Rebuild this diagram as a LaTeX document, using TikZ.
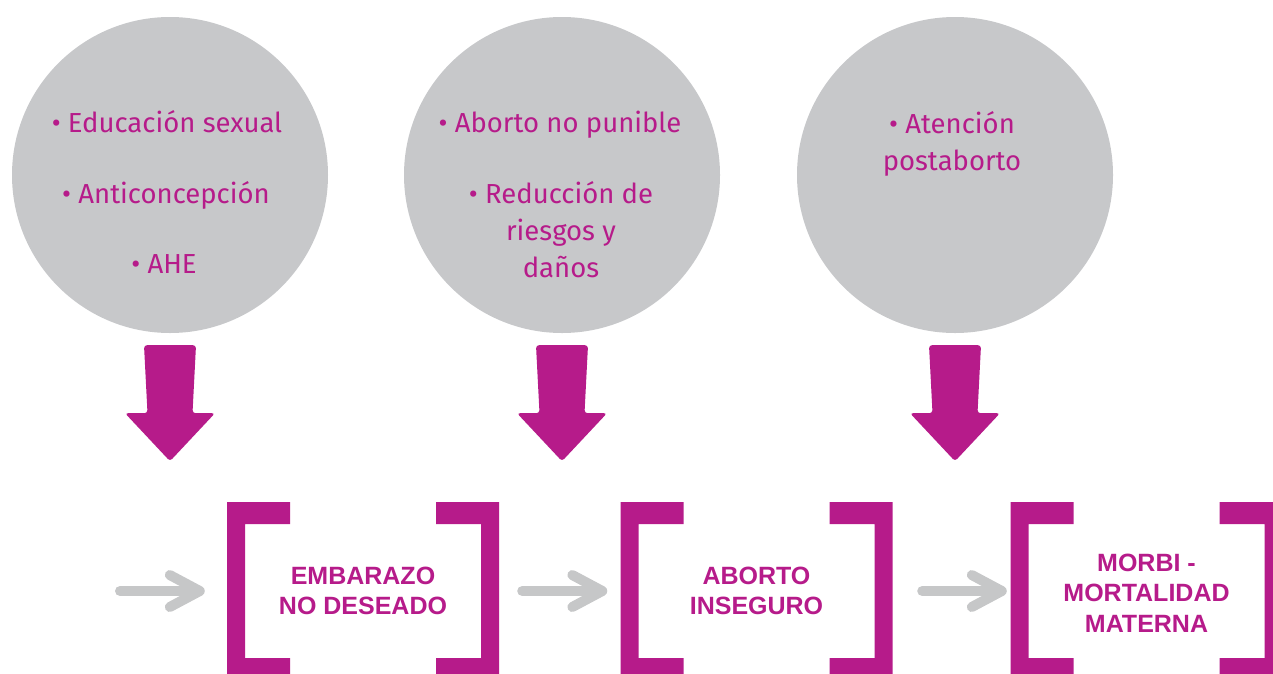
\documentclass[tikz,border=0pt]{standalone}
\usepackage{fontspec}
\newfontfamily\bubblefont{Fira Sans}
\newfontfamily\boxfont{Liberation Sans}
\usetikzlibrary{arrows.meta}
\definecolor{fucsia}{HTML}{B61B8A}
\definecolor{grisclaro}{HTML}{C7C8CA}
\definecolor{grisflecha}{HTML}{C6C7C8}

\begin{document}
\begin{tikzpicture}[x=1pt, y=-1pt,
    bubble/.style ={circle, fill=grisclaro, minimum size=316pt, inner sep=0pt},
    item/.style ={anchor=base, align=center, text=fucsia, inner sep=0pt,
                  font=\bubblefont\fontsize{27.5}{37}\selectfont},
    box/.style ={minimum width=272pt, minimum height=178pt, inner sep=0pt, align=center,
                 text=fucsia, font=\boxfont\bfseries\fontsize{25}{30.5}\selectfont},
    flow/.style ={line width=10pt, draw=grisflecha, line cap=round,
                  -{Straight Barb[length=30pt, width=32pt, round]}},
    bajada/.pic ={\fill[fucsia, rounded corners=3pt] (-26,0) -- (26,0) -- (22.5,68) -- (45,68)
                  -- (0,116) -- (-45,68) -- (-22.5,68) -- cycle;},
    corchetes/.pic ={\fill[fucsia] (-136,-89) -- (-73,-89) -- (-73,-67) -- (-118,-67)
                     -- (-118,67) -- (-73,67) -- (-73,89) -- (-136,89) -- cycle;
                     \fill[fucsia] (136,-89) -- (73,-89) -- (73,-67) -- (118,-67)
                     -- (118,67) -- (73,67) -- (73,89) -- (136,89) -- cycle;}]
   \useasboundingbox (0,0) rectangle (1273,673);
   \clip (0,0) rectangle (1273,673);

   % circles
   \node[bubble] (c1) at (170,175) {};
   \node[bubble] (c2) at (562,175) {};
   \node[bubble] (c3) at (955,175) {};

   % base = last line
   \node[item] (e1) at (167,132) {• Educación sexual};
   \node[item] (e2) at (166,203) {• Anticoncepción};
   \node[item] (e3) at (164,273) {• AHE};
   \node[item] (a1) at (560,132) {• Aborto no punible};
   \node[item] (a2) at (561,277) {• Reducción de\\riesgos y\\daños};
   \node[item] (p1) at (952,170) {• Atención\\postaborto};

   \path (c1.south) ++(0,12) pic {bajada};
   \path (c2.south) ++(0,12) pic {bajada};
   \path (c3.south) ++(0,12) pic {bajada};

   % boxes
   \node[box] (b1) at (363,591) {EMBARAZO\\NO DESEADO};
   \node[box] (b2) at (756.5,591) {ABORTO\\INSEGURO};
   \node[box] (b3) at (1146.5,593) {MORBI -\\MORTALIDAD\\MATERNA};
   \pic at (b1) {corchetes};
   \pic at (b2) {corchetes};
   \pic at ([yshift=2pt]b3) {corchetes};

   \coordinate (inicio) at (120,591);
   \draw[flow, shorten >=22pt] (inicio) -- (b1.west);
   \draw[flow, shorten <=23pt, shorten >=13pt] (b1.east) -- (b2.west);
   \draw[flow, shorten <=29.5pt, shorten >=3.5pt] (b2.east) -- ([yshift=2pt]b3.west);
 \end{tikzpicture}
\end{document}
